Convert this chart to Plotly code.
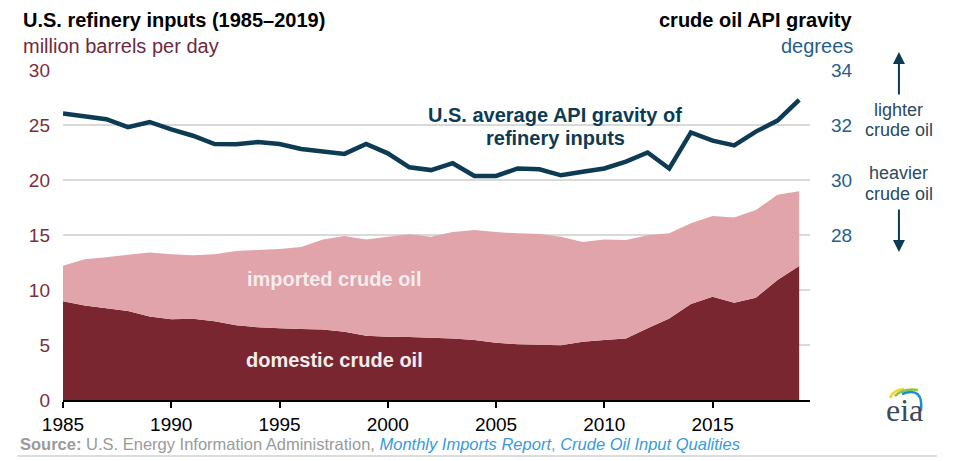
import plotly.graph_objects as go

years = list(range(1985, 2020))
domestic = [8.97, 8.60, 8.33, 8.09, 7.58, 7.33, 7.39, 7.15, 6.79, 6.61,
            6.52, 6.45, 6.42, 6.21, 5.85, 5.76, 5.73, 5.67, 5.60, 5.45,
            5.21, 5.06, 5.03, 4.97, 5.30, 5.45, 5.60, 6.52, 7.42, 8.73,
            9.39, 8.85, 9.30, 10.90, 12.18]
imported = [3.23, 4.19, 4.64, 5.11, 5.82, 5.91, 5.76, 6.09, 6.76, 7.03,
            7.21, 7.45, 8.18, 8.69, 8.73, 9.09, 9.33, 9.18, 9.67, 10.00,
            10.06, 10.09, 10.05, 9.88, 9.06, 9.15, 8.95, 8.45, 7.73, 7.33,
            7.34, 7.75, 7.97, 7.77, 6.79]
api_gravity = [32.42, 32.30, 32.21, 31.92, 32.11, 31.84, 31.61, 31.31, 31.30, 31.38,
               31.31, 31.13, 31.05, 30.95, 31.31, 30.97, 30.46, 30.36, 30.61, 30.15,
               30.15, 30.42, 30.39, 30.17, 30.30, 30.42, 30.67, 31.00, 30.42, 31.73,
               31.43, 31.26, 31.76, 32.16, 32.91]
x_ticks = [1985, 1990, 1995, 2000, 2005, 2010, 2015]
left_ticks = [0, 5, 10, 15, 20, 25, 30]
right_ticks = [28, 30, 32, 34]

W, H = 965, 461
OFF = 8  # default page body margin
L, R, T, B = 62.5, 810, 70, 400

def px(x):
    return (x - L) / (R - L)

def py(y):
    return (B - y) / (B - T)

FONT = "Liberation Sans, Arial, sans-serif"
MAROON = "#7a2631"
PINK = "#e0a4aa"
NAVY = "#0d3b54"
LEFTC = "#7d2e3c"
RIGHTC = "#27608a"

fig = go.Figure()
fig.add_trace(go.Scatter(x=years, y=domestic, stackgroup="one", mode="none",
                         fillcolor=MAROON, name="domestic crude oil", hoverinfo="x+y"))
fig.add_trace(go.Scatter(x=years, y=imported, stackgroup="one", mode="none",
                         fillcolor=PINK, name="imported crude oil", hoverinfo="x+y"))
fig.add_trace(go.Scatter(x=years, y=api_gravity, yaxis="y2", mode="lines",
                         line=dict(color=NAVY, width=4.5), name="API gravity"))

fig.update_layout(
    width=W - OFF, height=H - OFF,
    margin=dict(l=L - OFF, r=W - R, t=T - OFF, b=H - B, pad=0),
    paper_bgcolor="white", plot_bgcolor="white",
    showlegend=False,
    font=dict(family=FONT, size=18, color="#000"),
    xaxis=dict(range=[1985, 2019.5], tickvals=x_ticks, ticks="outside", ticklen=6,
               tickcolor="#000", tickwidth=1.5, showline=True, linecolor="#000", linewidth=1.5,
               showgrid=False, zeroline=False, tickfont=dict(size=19, color="#000")),
    yaxis=dict(range=[0, 30], tickvals=left_ticks, showgrid=True, gridcolor="#d9d9d9",
               gridwidth=1.5, zeroline=False, showline=False, ticks="",
               tickfont=dict(size=19, color=LEFTC), ticklabelstandoff=12),
    yaxis2=dict(range=[22, 34], tickvals=right_ticks, overlaying="y", side="right",
                showgrid=False, zeroline=False, showline=False, ticks="",
                tickfont=dict(size=19, color=RIGHTC), ticklabelstandoff=20),
)

ann = []
def txt(x, y, text, size=20, color="#000", bold=False, xanchor="center"):
    t = "<b>" + text + "</b>" if bold else text
    ann.append(dict(x=px(x), y=py(y), xref="paper", yref="paper", text=t, showarrow=False,
                    xanchor=xanchor, yanchor="middle",
                    font=dict(size=size, color=color, family=FONT)))

txt(20, 20, "U.S. refinery inputs (1985–2019)", size=20, bold=True, xanchor="left")
txt(20, 46, "million barrels per day", size=20, color="#6e2a3e", xanchor="left")
txt(855, 20, "crude oil API gravity", size=20, bold=True, xanchor="right")
txt(855, 46, "degrees", size=20, color=RIGHTC, xanchor="right")

txt(555, 115, "U.S. average API gravity of", size=20, color=NAVY, bold=True)
txt(555, 138, "refinery inputs", size=20, color=NAVY, bold=True)
txt(334, 279, "imported crude oil", size=20, color="#f4eded", bold=True)
txt(334, 360, "domestic crude oil", size=20, color="#f4eded", bold=True)

txt(899, 110, "lighter", size=18, color="#2b4a60")
txt(899, 130, "crude oil", size=18, color="#2b4a60")
txt(899, 173, "heavier", size=18, color="#2b4a60")
txt(899, 194, "crude oil", size=18, color="#2b4a60")

# arrows
ann.append(dict(x=px(899), y=py(52), xref="paper", yref="paper", ax=0, ay=44,
                showarrow=True, arrowhead=2, arrowsize=1.2, arrowwidth=2, arrowcolor=NAVY, text=""))
ann.append(dict(x=px(899), y=py(252), xref="paper", yref="paper", ax=0, ay=-44,
                showarrow=True, arrowhead=2, arrowsize=1.2, arrowwidth=2, arrowcolor=NAVY, text=""))

# source
ann.append(dict(x=px(17), y=py(444), xref="paper", yref="paper", showarrow=False,
                xanchor="left", yanchor="middle",
                text=("<b>Source:</b> U.S. Energy Information Administration, "
                      "<i><span style='color:#3a9ad9'>Monthly Imports Report</span></i>, "
                      "<i><span style='color:#3a9ad9'>Crude Oil Input Qualities</span></i>"),
                font=dict(size=16.5, color="#9a9a9a", family=FONT)))

# eia logo text
ann.append(dict(x=px(905), y=py(410), xref="paper", yref="paper", showarrow=False,
                xanchor="center", yanchor="middle", text="eia",
                font=dict(size=32, color="#3d4a5a", family="Liberation Serif, DejaVu Serif, serif")))

fig.update_layout(annotations=ann)

shapes = []
shapes.append(dict(type="line", xref="paper", yref="paper", x0=px(17), x1=px(937),
                   y0=py(456), y1=py(456), line=dict(color="#dcdcdc", width=2)))
shapes.append(dict(type="line", xref="paper", yref="paper", x0=px(962), x1=px(962),
                   y0=py(0), y1=py(461), line=dict(color="#e6e6e6", width=2)))
def arc(x0, y0, cx, cy, x1, y1, color, w=2.5):
    shapes.append(dict(type="path", xref="paper", yref="paper",
                       path=f"M {px(x0)},{py(y0)} Q {px(cx)},{py(cy)} {px(x1)},{py(y1)}",
                       line=dict(color=color, width=w)))
arc(890, 398, 893, 390, 904, 389, "#f2d530")
arc(895, 396, 903, 388, 918, 390, "#8cc63f")
arc(902, 394, 924, 386, 921, 411, "#1a8fd6")
fig.update_layout(shapes=shapes)

fig.write_html("out.html")
